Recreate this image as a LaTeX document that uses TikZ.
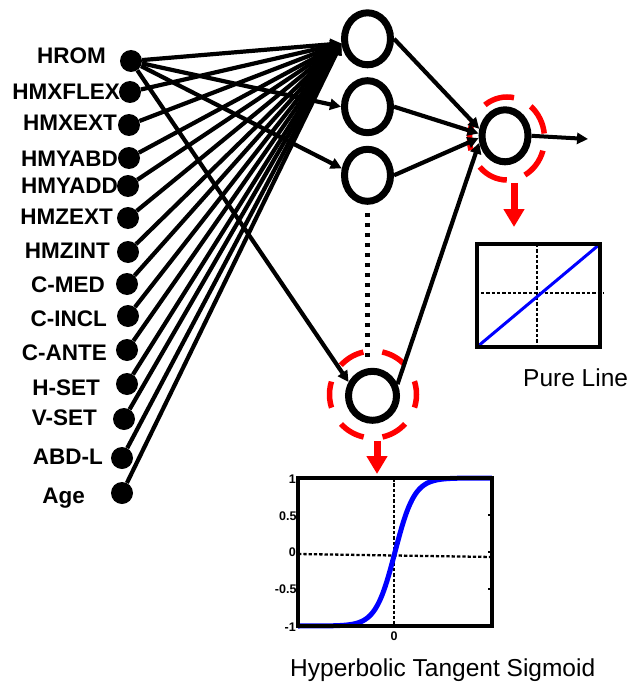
\documentclass[tikz,border=0pt]{standalone}
\usepackage{fontspec}
\setmainfont{Liberation Sans}
\usetikzlibrary{shapes.geometric,arrows.meta}
\begin{document}
\begin{tikzpicture}[x=1pt,y=-1pt,
  inp/.style={circle,fill=black,minimum size=22pt,inner sep=0pt},
  lab/.style={anchor=base east,inner sep=0pt,font=\fontsize{22.5}{27}\selectfont\bfseries},
  hid/.style={ellipse,draw=black,fill=white,line width=7pt,minimum width=46pt,minimum height=52pt,inner sep=0pt},
  conn/.style={line width=4.2pt,-{Triangle[length=11pt,width=11pt]}},
  ring/.style={ellipse,draw=red,line width=5.5pt,inner sep=0pt},
  redarrow/.style={draw=red,line width=7pt,-{Triangle[length=18pt,width=20pt]}},
  dotline/.style={line width=2.3pt,dash pattern=on 3.3pt off 2pt},
  frame/.style={line width=3.2pt},
  ticklab/.style={inner sep=0pt,font=\fontsize{12.5}{14}\selectfont\bfseries},
  caption/.style={anchor=base west,inner sep=0pt,font=\fontsize{24.5}{29}\selectfont}
]
\useasboundingbox (0,0) rectangle (630,682);

% red rings (behind)
\node[ring,minimum width=75pt,minimum height=83pt,dash pattern=on 31pt off 19pt,dash phase=45pt] (ring1) at (507,138.5) {};
\node[ring,minimum width=87pt,minimum height=87pt,dash pattern=on 26.5pt off 19pt,dash phase=13pt] (ring2) at (373,394.5) {};

% input dots and labels
\node[inp] (i1) at (131,61) {};
\node[inp] (i2) at (130,92) {};
\node[inp] (i3) at (129,125) {};
\node[inp] (i4) at (129,158) {};
\node[inp] (i5) at (128,186) {};
\node[inp] (i6) at (128,218) {};
\node[inp] (i7) at (128,252) {};
\node[inp] (i8) at (127,284) {};
\node[inp] (i9) at (128,316) {};
\node[inp] (i10) at (127,350) {};
\node[inp] (i11) at (127,384) {};
\node[inp] (i12) at (124,419) {};
\node[inp] (i13) at (122,458) {};
\node[inp] (i14) at (122,493) {};

\node[lab] (l1) at (106,63.3) {HROM};
\node[lab] (l2) at (120,100) {HMXFLEX};
\node[lab] (l3) at (117,130.7) {HMXEXT};
\node[lab] (l4) at (118,166.7) {HMYABD};
\node[lab] (l5) at (118,193.3) {HMYADD};
\node[lab] (l6) at (113,224) {HMZEXT};
\node[lab] (l7) at (110,258) {HMZINT};
\node[lab] (l8) at (105,292) {C-MED};
\node[lab] (l9) at (107,326) {C-INCL};
\node[lab] (l10) at (107,360) {C-ANTE};
\node[lab] (l11) at (100,395) {H-SET};
\node[lab] (l12) at (97,425) {V-SET};
\node[lab] (l13) at (103,464) {ABD-L};
\node[lab] (l14) at (85,503) {Age};

% hidden and output neurons
\node[hid] (h1) at (367.5,38.8) {};
\node[hid] (h2) at (367.5,106.7) {};
\node[hid] (h3) at (367.5,175.3) {};
\node[hid,minimum width=48pt,minimum height=49pt] (hb) at (372.5,395.8) {};
\node[hid,minimum width=46pt,minimum height=52pt] (out) at (505,135.8) {};

% input connections
\foreach \i in {1,...,14} {\draw[conn] (i\i) -- (h1.190);}
\draw[conn] (i1) -- (h2.west);
\draw[conn] (i1) -- (h3.165);
\draw[conn] (i1) -- (hb.150);

% hidden to output
\draw[conn] (h1.east) -- (out.165);
\draw[conn] (h2.east) -- (out.175);
\draw[conn] (h3.east) -- (out.185);
\draw[conn] (hb.25) -- (out.195);

% dotted continuation
\draw[line width=4.5pt,dash pattern=on 4.5pt off 5.5pt,shorten <=8pt,shorten >=7pt] (h3.south) -- (h3.south |- hb.north);

% output arrow
\coordinate (outend) at (588,139);
\draw[line width=4pt,-{Triangle[length=11pt,width=11pt]}] (out.east) -- (outend);

% red arrows
\coordinate (ra1) at (514,227);
\coordinate (ra2) at (377,474);
\draw[redarrow] (ring1.south -| ra1) -- (ra1);
\draw[redarrow] (ring2.south -| ra2) -- (ra2);

% pure line plot
\draw[dotline] (537,244) -- (537,347);
\draw[dotline] (481,293) -- (603,293);
\draw[blue,line width=3pt] (477,347) -- (600,244);
\draw[frame] (477,244) rectangle (600,347);
\node[caption] (cap1) at (523,386.7) {Pure Line};

% tanh plot
\draw[dotline] (394,478) -- (394,626);
\draw[dotline] (298,554) -- (492,557);
\draw[blue,line width=5pt] plot[domain=-5:5,samples=120,smooth] ({395+19.4*\x},{552-74*tanh(\x)});
\draw[frame] (298,478) rectangle (492,626);
\foreach \yy in {515,552,589} {\draw[line width=2pt] (492,\yy) -- (488,\yy);}
\draw[line width=2pt] (394,478) -- (394,482);
\node[ticklab,anchor=east] (t1) at (296,479) {1};
\node[ticklab,anchor=east] (t2) at (296.7,515.7) {0.5};
\node[ticklab,anchor=east] (t3) at (296,552) {0};
\node[ticklab,anchor=east] (t4) at (296.7,589) {-0.5};
\node[ticklab,anchor=east] (t5) at (296,626.7) {-1};
\node[ticklab] (t6) at (394,636) {0};
\node[caption] (cap2) at (290,676.7) {Hyperbolic Tangent Sigmoid};
\end{tikzpicture}
\end{document}
